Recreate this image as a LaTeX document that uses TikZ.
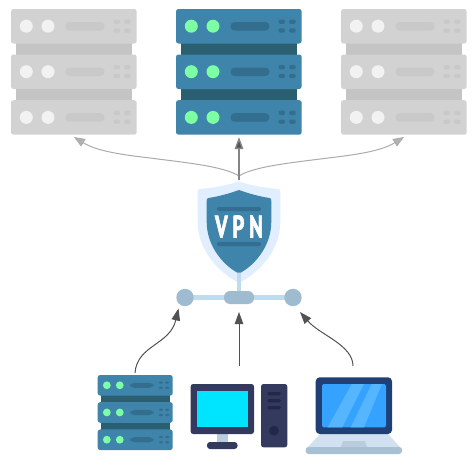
\documentclass[tikz,border=0pt]{standalone}
\usepackage{fontspec}
\setmainfont{PT Sans}
\newfontfamily\vpnfont[FakeBold=2.2,BoldFont={PT Sans Bold}]{PT Sans Bold}
\usetikzlibrary{arrows.meta}
\definecolor{srvA}{HTML}{3F84AB}\definecolor{srvB}{HTML}{2A5F72}\definecolor{srvC}{HTML}{346E8E}\definecolor{srvD}{HTML}{7DFFA3}
\definecolor{gryA}{HTML}{D2D2D2}\definecolor{gryB}{HTML}{C4C4C4}\definecolor{gryC}{HTML}{C9C9C9}\definecolor{gryD}{HTML}{F2F2F2}
\definecolor{linkA}{HTML}{BFDBEF}\definecolor{linkB}{HTML}{9FBBCF}\definecolor{shieldO}{HTML}{E0EEFF}
\definecolor{pcDark}{HTML}{343A5E}\definecolor{pcSlot}{HTML}{23284A}\definecolor{pcLight}{HTML}{BACDDF}\definecolor{pcScr}{HTML}{00E5FF}
\definecolor{lapLid}{HTML}{1F3F75}\definecolor{lapScr}{HTML}{35A2FF}\definecolor{lapStr}{HTML}{55B5FF}\definecolor{lapBase}{HTML}{D2E1EF}\definecolor{lapFoot}{HTML}{A8C0D3}
\tikzset{
  arrdark/.style={draw=black!68,line width=1pt,-{Triangle[length=12pt,width=8.5pt,fill=black!68]}},
  arrmain/.style={draw=black!48,line width=1.4pt,-{Triangle[length=12pt,width=8.5pt,fill=black!68]}},
  arrgray/.style={draw=black!33,line width=1pt,-{Triangle[length=11pt,width=8.5pt,fill=black!30]}},
}
\newcommand{\srvunit}[4]{%
 \begin{scope}[shift={(0,#1)}]
  \fill[#2,rounded corners=2.5pt] (0,0) rectangle (125.7,34.5);
  \fill[#4] (15.3,17.2) circle (6.5) (37,17.2) circle (6.5);
  \fill[#3,rounded corners=4pt] (54.5,13) rectangle (93.5,21.5);
  \foreach \dx in {102.5,113.2}\foreach \dy in {10.5,19.3}
    \fill[#3,rounded corners=2pt] (\dx,\dy) rectangle ++(6.5,4.4);
 \end{scope}}
\newcommand{\srvrack}[7]{%
 \begin{scope}[shift={(#1,#2)},scale=#3]
  \fill[#5] (4.7,30) rectangle (121,100);
  \srvunit{0}{#4}{#6}{#7}
  \srvunit{45.5}{#4}{#6}{#7}
  \srvunit{91.2}{#4}{#6}{#7}
 \end{scope}}
\begin{document}
\begin{tikzpicture}[x=1pt,y=-1pt]
\useasboundingbox (0,0) rectangle (475,466);
% servers
\srvrack{11}{9}{1}{gryA}{gryB}{gryC}{gryD}
\srvrack{176}{9}{1}{srvA}{srvB}{srvC}{srvD}
\srvrack{341}{9}{1}{gryA}{gryB}{gryC}{gryD}
\srvrack{97.7}{375}{0.597}{srvA}{srvB}{srvC}{srvD}
\coordinate (topL) at (74,137);
\coordinate (topM) at (239,137);
\coordinate (topR) at (404,137);
\coordinate (vpnTop) at (239,180);
\coordinate (vpnFork) at (239,176);
\coordinate (hubL) at (178.5,308.5);
\coordinate (hubM) at (239,312);
\coordinate (hubR) at (300,312);
\coordinate (srcL) at (135,373);
\coordinate (srcM) at (239,366);
\coordinate (srcR) at (353,366);
% shield
\fill[shieldO] (239,181.5) .. controls (225,186) and (212,188) .. (199.5,189)
  .. controls (198,189.2) and (197.7,190) .. (197.7,192) -- (197.7,222)
  .. controls (197.7,250) and (218,272) .. (239,283)
  .. controls (260,272) and (280.3,250) .. (280.3,222) -- (280.3,192)
  .. controls (280.3,190) and (280,189.2) .. (278.5,189)
  .. controls (266,188) and (253,186) .. (239,181.5) -- cycle;
\fill[srvA] (239,190) .. controls (228,194) and (218,196.5) .. (208.5,198)
  .. controls (207,198.3) and (206.7,199) .. (206.7,201) -- (206.7,222)
  .. controls (206.7,245) and (222,264) .. (237,272.5)
  .. controls (238.3,273.2) and (239.7,273.2) .. (241,272.5)
  .. controls (256,264) and (271.3,245) .. (271.3,222) -- (271.3,201)
  .. controls (271.3,199) and (271,198.3) .. (269.5,198)
  .. controls (260,196.5) and (250,194) .. (239,190) -- cycle;
\fill[srvC,rounded corners=2pt] (217,207) rectangle (261,211);
\fill[srvC,rounded corners=2pt] (217,242) rectangle (261,246);
\node[text=white,inner sep=0pt] (vpnLabel) at (239,226.5) {\resizebox{48pt}{22pt}{\vpnfont V\kern2.2pt P\kern2.2pt N}};
% hub
\fill[linkA] (237,273) rectangle (241,294);
\fill[linkA] (185,295) rectangle (293,300);
\fill[linkB] (185,297.5) circle (8.7) (293,297.5) circle (8.7);
\fill[linkB,rounded corners=6pt] (224,291) rectangle (254,304);
% desktop
\fill[pcLight] (217.3,433) rectangle (227.5,443);
\fill[pcDark,rounded corners=2.5pt] (190.7,384) rectangle (254,434);
\fill[pcScr] (197.3,391) rectangle (247.7,427.3);
\fill[pcDark,rounded corners=3pt] (207,442) rectangle (237.5,449);
\fill[pcDark,rounded corners=2.5pt] (261,384) rectangle (287.3,447.3);
\foreach \sy in {392,399,406}\fill[pcSlot,rounded corners=1.5pt] (267.3,\sy) rectangle ++(13.5,3.4);
\fill[pcSlot] (274,430.7) circle (5);
% laptop
\fill[lapBase] (322,432) -- (386,432) -- (402,449) -- (306,449) -- cycle;
\fill[pcLight] (343,441) -- (365,441) -- (367.5,448) -- (340.5,448) -- cycle;
\fill[lapFoot,rounded corners=3pt] (305.7,447) rectangle (402,454);
\fill[lapLid,rounded corners=4pt] (315.7,377.3) rectangle (392,434);
\fill[lapScr,rounded corners=1.5pt] (322,384) rectangle (386,427.3);
\fill[lapStr] (327.7,427.3) -- (342.3,427.3) -- (364,384) -- (351.7,384) -- cycle;
\fill[lapStr] (350.7,427.3) -- (364,427.3) -- (382,384) -- (371.7,384) -- cycle;
% connectors
\draw[arrgray] (vpnFork) .. controls (224,166) and (180,162) .. (150,158) .. controls (115,154) and (95,150) .. (topL);
\draw[arrgray] (vpnFork) .. controls (254,166) and (298,162) .. (328,158) .. controls (363,154) and (383,150) .. (topR);
\draw[arrmain] (vpnTop) -- (topM);
\draw[arrdark] (srcL) .. controls (137,345) and (170,345) .. (hubL);
\draw[arrdark] (srcM) -- (hubM);
\draw[arrdark] (srcR) .. controls (353,345) and (320,335) .. (hubR);
\end{tikzpicture}
\end{document}
